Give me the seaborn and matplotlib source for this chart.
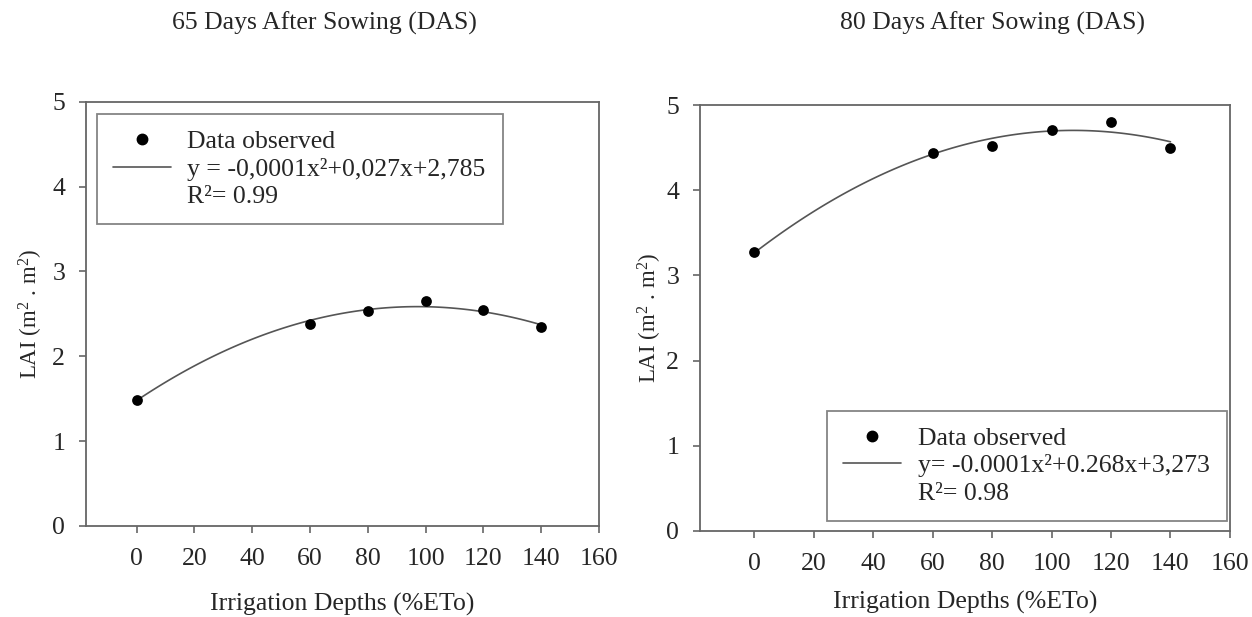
import pandas as pd
import matplotlib.pyplot as plt
import seaborn as sns
from matplotlib.lines import Line2D

# --- data ---
depths = [0, 60, 80, 100, 120, 140]
lai_65 = [1.49, 2.38, 2.53, 2.65, 2.54, 2.34]
lai_80 = [3.27, 4.44, 4.52, 4.71, 4.80, 4.50]

titles = ["65 Days After Sowing (DAS)", "80 Days After Sowing (DAS)"]
eq_labels = ["y = -0,0001x\u00b2+0,027x+2,785", "y= -0.0001x\u00b2+0.268x+3,273"]
r2_labels = ["R\u00b2= 0.99", "R\u00b2= 0.98"]
x_ticks = [0, 20, 40, 60, 80, 100, 120, 140, 160]

sns.set_theme(style="ticks")
plt.rcParams['font.family'] = ['Liberation Serif', 'DejaVu Serif']
plt.rcParams['mathtext.default'] = 'regular'

frame_col = '#666666'
line_col = '#555555'
fs = 18.5

fig = plt.figure(figsize=(12.52, 6.17), dpi=100)
ax1 = fig.add_axes([0.0687, 0.1475, 0.4097, 0.6877])
ax2 = fig.add_axes([0.5591, 0.1394, 0.4233, 0.6904])

# axis, values, legend box (axes coords), legend anchor, x min, ylabel pad, xlabel pad
panels = [
    (ax1, lai_65, (0.021, 0.708, 0.791, 0.263), 'upper left', -17.5, 5.5, 16.5),
    (ax2, lai_80, (0.240, 0.024, 0.754, 0.262), 'lower left', -18.2, 1.5, 11.5),
]

for i, (ax, lai, bbox, loc, xmin, ylpad, xlpad) in enumerate(panels):
    df = pd.DataFrame({'depth': depths, 'lai': lai})
    sns.regplot(data=df, x='depth', y='lai', order=2, ci=None, scatter=False,
                line_kws=dict(color=line_col, lw=1.2), ax=ax)
    sns.scatterplot(data=df, x='depth', y='lai', color='black', s=60,
                    edgecolor='black', linewidth=0, ax=ax, zorder=3)

    ax.set_xlim(xmin, 160)
    ax.set_ylim(0, 5)
    ax.set_xticks(x_ticks)
    ax.set_yticks([0, 1, 2, 3, 4, 5])
    for s in ax.spines.values():
        s.set_visible(True)
        s.set_color(frame_col)
        s.set_linewidth(1.3)
    ax.tick_params(axis='both', direction='out', length=5, width=1.2,
                   color=frame_col, labelsize=fs)
    ax.tick_params(axis='x', pad=10.5)
    ax.tick_params(axis='y', pad=10)
    ax.set_xlabel("Irrigation Depths (%ETo)", fontsize=fs, labelpad=xlpad)
    ax.set_ylabel("LAI (m$^{2}$ . m$^{2}$)", fontsize=16.5, labelpad=ylpad)

    handles = [
        Line2D([], [], marker='o', ls='none', color='black', markersize=7.5),
        Line2D([], [], color=line_col, lw=1.2),
        Line2D([], [], ls='none'),
    ]
    labels = ["Data observed", eq_labels[i], r2_labels[i]]
    leg = ax.legend(handles, labels, loc=loc, bbox_to_anchor=bbox, mode='expand',
                    fontsize=fs, frameon=True, fancybox=False, edgecolor=frame_col,
                    handlelength=2.26, handletextpad=0.65, labelspacing=0.18,
                    borderpad=0.62, borderaxespad=0)
    leg.get_frame().set_linewidth(1.3)

fig.text(324 / 1252, 1 - 23 / 617, titles[0], ha='center', va='center', fontsize=fs)
fig.text(992 / 1252, 1 - 23 / 617, titles[1], ha='center', va='center', fontsize=fs)

plt.savefig("out.png", dpi=100)
plt.close()
